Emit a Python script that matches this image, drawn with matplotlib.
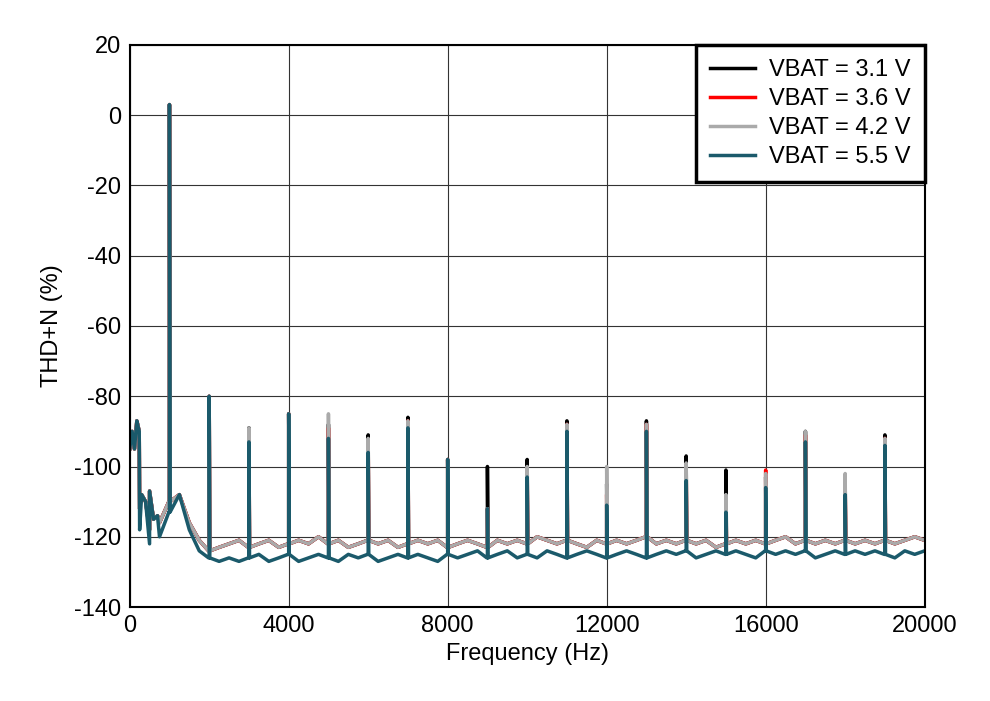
import matplotlib.pyplot as plt
import numpy as np

plt.rcParams['font.family'] = ['Liberation Sans', 'DejaVu Sans']
plt.rcParams['axes.unicode_minus'] = False

# noise floor, every 250 Hz from 250 to 20000 Hz
floor_freq = list(range(250, 20001, 250))
floor_hi = [-112, -118, -116, -110, -108, -116, -121, -124, -123, -122, -121, -123,
            -122, -121, -123, -122, -121, -122, -120, -122, -121, -123, -122, -121,
            -122, -121, -123, -122, -121, -122, -121, -123, -122, -121, -122, -123,
            -121, -122, -121, -122, -120, -121, -122, -121, -122, -123, -121, -122,
            -121, -122, -121, -120, -122, -121, -122, -121, -122, -121, -123, -122,
            -121, -122, -121, -122, -121, -120, -122, -121, -122, -121, -122, -121,
            -122, -121, -122, -121, -122, -121, -120, -121]
floor_lo = [-118, -122, -120, -113, -108, -118, -124, -126, -127, -126, -127, -126,
            -125, -127, -126, -125, -127, -126, -125, -126, -127, -125, -126, -125,
            -127, -126, -125, -126, -125, -126, -127, -125, -126, -125, -124, -126,
            -125, -124, -126, -125, -126, -124, -125, -126, -125, -124, -125, -126,
            -125, -124, -125, -126, -125, -124, -125, -124, -126, -125, -124, -125,
            -124, -125, -126, -124, -125, -124, -125, -124, -126, -125, -124, -125,
            -124, -125, -124, -125, -126, -124, -125, -124]

# low-frequency spurs (Hz, dB)
spur_freq = [60, 120, 180, 240, 300, 400, 500, 600, 700]
spur_val = [-90, -95, -87, -90, -108, -110, -107, -115, -114]

harm_freq = [1000, 2000, 3000, 4000, 5000, 6000, 7000, 8000, 9000, 10000,
             11000, 12000, 13000, 14000, 15000, 16000, 17000, 18000, 19000]
harm_31 = [3, -80, -89, -85, -88, -91, -86, -98, -100, -98, -87, -105, -87, -97, -101, -103, -90, -104, -91]
harm_36 = [3, -80, -90, -85, -89, -93, -87, -98, -112, -101, -88, -108, -88, -100, -110, -101, -91, -105, -92]
harm_42 = [3, -80, -89, -85, -85, -92, -87, -98, -112, -100, -88, -100, -88, -99, -108, -102, -90, -102, -92]
harm_55 = [3, -80, -93, -85, -92, -96, -89, -98, -112, -103, -90, -111, -90, -104, -113, -106, -93, -108, -94]

labels = ['VBAT = 3.1 V', 'VBAT = 3.6 V', 'VBAT = 4.2 V', 'VBAT = 5.5 V']
colors = ['#000000', '#ff0000', '#aaaaaa', '#1b5a6b']


def build(floor, harm):
    pts = [(f, v) for f, v in zip(floor_freq, floor)]
    pts += [(f, v) for f, v in zip(spur_freq, spur_val)]
    for f, v in zip(harm_freq, harm):
        base = floor[min(range(len(floor_freq)), key=lambda i: abs(floor_freq[i] - f))]
        pts += [(f - 15, base), (f, v), (f + 15, base)]
    pts.append((0, -95))
    pts.sort()
    return [p[0] for p in pts], [p[1] for p in pts]


fig = plt.figure(figsize=(9.9, 7.01), dpi=100)
ax = fig.add_axes([0.131, 0.134, 0.803, 0.802])
for harm, floor, lab, c in zip([harm_31, harm_36, harm_42, harm_55],
                               [floor_hi, floor_hi, floor_hi, floor_lo], labels, colors):
    x, y = build(floor, harm)
    ax.plot(x, y, color=c, lw=2.5, label=lab)

ax.set_xlim(0, 20000)
ax.set_ylim(-140, 20)
ax.set_xticks(range(0, 20001, 4000))
ax.set_yticks(range(-140, 21, 20))
ax.grid(True, color='#333333', lw=0.8)
ax.tick_params(labelsize=17, length=0, pad=6)
for s in ax.spines.values():
    s.set_linewidth(1.5)
ax.set_xlabel('Frequency (Hz)', fontsize=17, labelpad=4)
ax.set_ylabel('THD+N (%)', fontsize=17, labelpad=8)
leg = ax.legend(loc='upper right', fontsize=17, fancybox=False, framealpha=1,
                edgecolor='black', handlelength=1.9, borderaxespad=0.0,
                labelspacing=0.3, borderpad=0.6, handletextpad=0.6)
leg.get_frame().set_linewidth(2.5)
fig.savefig('out.png')
